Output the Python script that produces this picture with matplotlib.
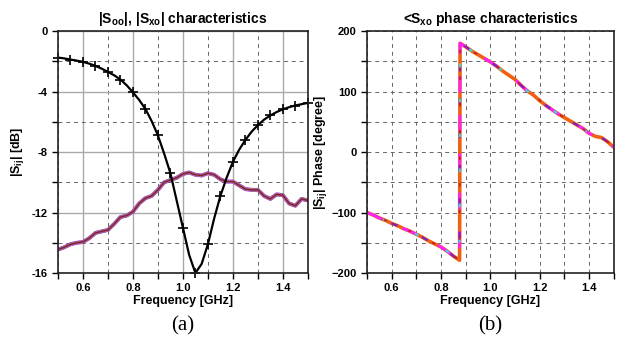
import matplotlib
matplotlib.use("Agg")
import matplotlib.pyplot as plt
from matplotlib.ticker import MultipleLocator

plt.rcParams["font.family"] = ["Liberation Sans", "DejaVu Sans"]
plt.rcParams["font.weight"] = "bold"
plt.rcParams["mathtext.fontset"] = "custom"
plt.rcParams["mathtext.rm"] = "Liberation Sans:bold"
plt.rcParams["mathtext.bf"] = "Liberation Sans:bold"
plt.rcParams["mathtext.it"] = "Liberation Sans:bold"

# frequency grid [GHz]
freq = [0.500, 0.525, 0.550, 0.575, 0.600, 0.625, 0.650, 0.675, 0.700, 0.725,
        0.750, 0.775, 0.800, 0.825, 0.850, 0.875, 0.900, 0.925, 0.950, 0.975,
        1.000, 1.025, 1.050, 1.075, 1.100, 1.125, 1.150, 1.175, 1.200, 1.225,
        1.250, 1.275, 1.300, 1.325, 1.350, 1.375, 1.400, 1.425, 1.450, 1.475,
        1.500]

# |S_oo| [dB]
s_oo = [-1.75, -1.80, -1.88, -1.95, -2.03, -2.15, -2.30, -2.48, -2.70, -2.92,
        -3.20, -3.58, -4.05, -4.55, -5.15, -5.95, -6.90, -8.10, -9.40, -11.20,
        -13.00, -14.80, -16.00, -15.40, -14.10, -12.40, -10.90, -9.70, -8.65, -7.85,
        -7.20, -6.65, -6.22, -5.85, -5.58, -5.35, -5.17, -5.03, -4.92, -4.83,
        -4.75]

# |S_xo| [dB]
s_xo = [-14.45, -14.30, -14.10, -14.00, -13.95, -13.70, -13.35, -13.25, -13.15, -12.75,
        -12.30, -12.20, -11.95, -11.40, -11.05, -10.90, -10.50, -10.00, -9.85, -9.70,
        -9.45, -9.35, -9.50, -9.55, -9.40, -9.50, -9.80, -9.95, -9.95, -10.20,
        -10.45, -10.50, -10.50, -10.90, -11.10, -10.80, -10.85, -11.40, -11.55, -11.10,
        -11.20]

# <S_xo phase [degree]
phase_freq = [0.500, 0.525, 0.550, 0.575, 0.600, 0.625, 0.650, 0.675, 0.700, 0.725,
              0.750, 0.775, 0.800, 0.825, 0.850, 0.875, 0.877, 0.900, 0.925, 0.950,
              0.975, 1.000, 1.025, 1.050, 1.075, 1.100, 1.125, 1.150, 1.175, 1.200,
              1.225, 1.250, 1.275, 1.300, 1.325, 1.350, 1.375, 1.400, 1.425, 1.450,
              1.475, 1.500]
phase = [-100, -104, -109, -113, -118, -122, -127, -131, -136, -141,
         -147, -152, -157, -164, -172, -179, 180, 174, 167, 161,
         155, 149, 142, 134, 127, 120, 110, 101, 94, 85,
         77, 70, 63, 57, 51, 45, 39, 31, 26, 24,
         17, 8]

TICK_FS = 8


def style_axes(ax, solid_major):
    ax.set_xlim(0.5, 1.5)
    ax.xaxis.set_major_locator(MultipleLocator(0.2))
    ax.xaxis.set_minor_locator(MultipleLocator(0.1))
    if solid_major:
        ax.grid(which="major", color="#aaaaaa", linestyle="-", linewidth=1.0)
        ax.grid(which="minor", color="#666666", linestyle=(0, (4, 4)), linewidth=0.7)
    else:
        ax.grid(which="both", color="#666666", linestyle=(0, (4, 4)), linewidth=0.7)
    ax.set_axisbelow(True)
    ax.tick_params(which="both", direction="out", length=4, width=1,
                   top=False, right=False, labelsize=TICK_FS)
    for lab in ax.get_xticklabels() + ax.get_yticklabels():
        lab.set_fontweight("bold")
    for sp in ax.spines.values():
        sp.set_linewidth(1.2)
        sp.set_color("#222222")
    ax.set_xlabel("Frequency [GHz]", fontsize=9, fontweight="bold", labelpad=1)


fig = plt.figure(figsize=(6.2, 3.5), dpi=100)

# (a) magnitude
ax1 = fig.add_axes([0.0935, 0.22, 0.403, 0.691])
for color, lw in [("#c000ff", 2.8), ("#40d020", 2.3), ("#d040d0", 1.9), ("#7a2a1a", 1.0)]:
    ax1.plot(freq, s_xo, color=color, lw=lw, solid_capstyle="round")
ax1.plot(freq, s_oo, color="black", lw=1.6, marker="+", markersize=7,
         markeredgewidth=1.2, markevery=2, clip_on=False)
ax1.set_ylim(-16, 0)
ax1.yaxis.set_major_locator(MultipleLocator(4))
ax1.yaxis.set_minor_locator(MultipleLocator(2))
style_axes(ax1, True)
ax1.set_yticks([0, -4, -8, -12, -16])
ax1.set_yticklabels(["0", "-4", "-8", "-12", "-16"], fontweight="bold")
ax1.set_ylabel(r"|S$_{ij}$| [dB]", fontsize=9, fontweight="bold", labelpad=4)
ax1.set_title(r"|S$_{oo}$|, |S$_{xo}$| characteristics", fontsize=10,
              fontweight="bold", pad=6)

# (b) phase
ax2 = fig.add_axes([0.592, 0.22, 0.398, 0.691])
ax2.plot(phase_freq, phase, color="#f06010", lw=2.6)
ax2.plot(phase_freq, phase, color="#ff20ff", lw=2.0, linestyle=(0, (6, 8)))
ax2.plot(phase_freq, phase, color="#8020c0", lw=1.6, linestyle=(3, (3, 12)))
ax2.plot(phase_freq, phase, color="#30e0e0", lw=1.4, linestyle=(9, (2, 16)))
ax2.plot(phase_freq, phase, color="#c02020", lw=1.2, linestyle=(5, (2, 14)))
ax2.set_ylim(-200, 200)
ax2.yaxis.set_major_locator(MultipleLocator(100))
ax2.yaxis.set_minor_locator(MultipleLocator(50))
style_axes(ax2, False)
ax2.set_ylabel(r"|S$_{ij}$| Phase [degree]", fontsize=9, fontweight="bold", labelpad=2)
ax2.set_title(r"<S$_{xo}$ phase characteristics", fontsize=10,
              fontweight="bold", pad=6)

fig.text(0.294, 0.07, "(a)", family="Liberation Serif", fontweight="normal",
         fontsize=15, ha="center", va="center")
fig.text(0.791, 0.07, "(b)", family="Liberation Serif", fontweight="normal",
         fontsize=15, ha="center", va="center")

fig.savefig("out.png", dpi=100)
